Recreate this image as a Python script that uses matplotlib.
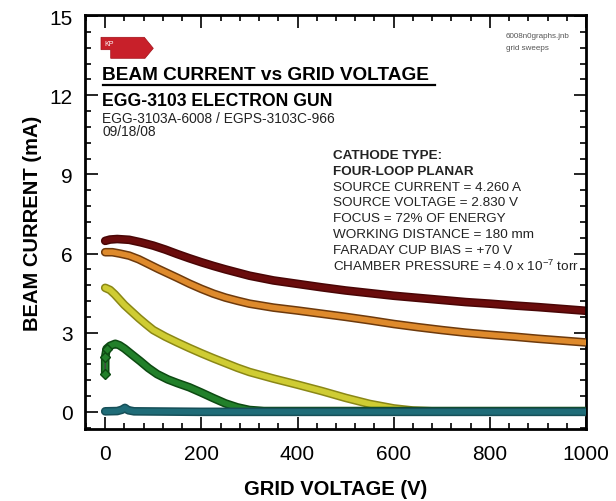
import matplotlib
matplotlib.use('Agg')
import matplotlib.pyplot as plt
import matplotlib.patheffects as pe
from matplotlib.patches import Polygon
from matplotlib.lines import Line2D
from matplotlib.ticker import MultipleLocator

plt.rcParams['font.family'] = ['Liberation Sans', 'DejaVu Sans']
plt.rcParams['mathtext.fontset'] = 'custom'
plt.rcParams['mathtext.rm'] = 'Liberation Sans'

# data (grid voltage in V, beam current in mA)
v_maroon = [0, 10, 25, 50, 75, 100, 125, 150, 175, 200, 225, 250, 275, 300, 350, 400,
            450, 500, 550, 600, 650, 700, 750, 800, 850, 900, 950, 1000]
i_maroon = [6.48, 6.53, 6.55, 6.52, 6.42, 6.3, 6.15, 5.98, 5.82, 5.67, 5.53, 5.4, 5.28,
            5.16, 4.98, 4.85, 4.72, 4.6, 4.5, 4.4, 4.32, 4.24, 4.16, 4.1, 4.03, 3.97, 3.9, 3.83]

v_orange = [0, 15, 30, 50, 70, 90, 110, 130, 150, 175, 200, 225, 250, 275, 300, 350, 400,
            450, 500, 550, 600, 650, 700, 750, 800, 850, 900, 950, 1000]
i_orange = [6.05, 6.05, 6.0, 5.92, 5.78, 5.6, 5.42, 5.25, 5.08, 4.86, 4.66, 4.48, 4.33,
            4.21, 4.1, 3.95, 3.84, 3.72, 3.6, 3.47, 3.33, 3.21, 3.1, 3.0, 2.92, 2.85, 2.77,
            2.7, 2.63]

v_yellow = [0, 10, 20, 30, 40, 55, 70, 85, 100, 125, 150, 175, 200, 225, 250, 275, 300,
            350, 400, 450, 500, 550, 600, 640, 680, 800, 1000]
i_yellow = [4.7, 4.62, 4.45, 4.25, 4.05, 3.8, 3.55, 3.32, 3.1, 2.85, 2.63, 2.42, 2.22,
            2.03, 1.85, 1.67, 1.51, 1.26, 1.03, 0.79, 0.53, 0.3, 0.13, 0.05, 0.02, 0.02, 0.02]

v_green = [0, 0, 3, 10, 21, 30, 40, 55, 73, 90, 108, 130, 150, 175, 200, 225, 250, 275,
           300, 330, 500, 1000]
i_green = [1.45, 2.08, 2.39, 2.5, 2.58, 2.52, 2.4, 2.18, 1.92, 1.66, 1.43, 1.23, 1.09,
           0.93, 0.73, 0.52, 0.32, 0.17, 0.07, 0.03, 0.03, 0.03]

v_teal = [0, 25, 35, 41, 48, 60, 200, 500, 1000]
i_teal = [0.02, 0.03, 0.08, 0.15, 0.06, 0.02, 0.0, 0.0, 0.0]

series = [
    (v_maroon, i_maroon, '#6a0c0c', '#4a0606'),
    (v_orange, i_orange, '#de8a2c', '#6e3a0c'),
    (v_yellow, i_yellow, '#cfcc33', '#8a8716'),
    (v_green, i_green, '#22802a', '#0d4a12'),
    (v_teal, i_teal, '#1f6c78', '#164f58'),
]

info_lines = [
    ('CATHODE TYPE:', 'bold'),
    ('FOUR-LOOP PLANAR', 'bold'),
    ('SOURCE CURRENT = 4.260 A', 'normal'),
    ('SOURCE VOLTAGE = 2.830 V', 'normal'),
    ('FOCUS = 72% OF ENERGY', 'normal'),
    ('WORKING DISTANCE = 180 mm', 'normal'),
    ('FARADAY CUP BIAS = +70 V', 'normal'),
    (r'CHAMBER PRESSURE = 4.0 x 10$^{\mathregular{-7}}$ torr', 'normal'),
]

W, H = 616, 502
fig = plt.figure(figsize=(W / 100, H / 100), dpi=100)
ax = fig.add_axes([85 / W, 1 - 430 / H, 501 / W, 414 / H])

for k, (xs, ys, col, edge) in enumerate(series):
    ax.plot(xs, ys, color=col, lw=4, solid_capstyle='round', solid_joinstyle='round',
            zorder=2 + k,
            path_effects=[pe.Stroke(linewidth=6.2, foreground=edge), pe.Normal()])

# the first green points are separate diamonds joined by a thin line
ax.plot(v_green[:3], i_green[:3], color='#444444', lw=1, zorder=8)
ax.plot(v_green[:3], i_green[:3], 'D', color='#22802a', mec='#0d4a12', ms=5.5, zorder=9)

ax.set_xlim(-42, 1000)
ax.set_ylim(-0.65, 15.04)
ax.set_xticks(range(0, 1001, 200))
ax.set_yticks(range(0, 16, 3))
ax.xaxis.set_minor_locator(MultipleLocator(40))
ax.yaxis.set_minor_locator(MultipleLocator(0.6))
ax.tick_params(which='both', direction='in', top=True, right=True, width=1.2, labelsize=15)
ax.tick_params(which='major', length=9)
ax.tick_params(which='minor', length=4.5)
ax.tick_params(axis='x', pad=11)
ax.tick_params(axis='y', pad=9)
for s in ax.spines.values():
    s.set_linewidth(2)

ax.set_xlabel('GRID VOLTAGE (V)', fontsize=14.5, fontweight='bold', labelpad=11)
ax.set_ylabel('BEAM CURRENT (mA)', fontsize=14.5, fontweight='bold', labelpad=5)

def fx(px):
    return px / W

def fy(py):
    return 1 - py / H

# KP badge
badge = [(101, 38.3), (144.3, 38.3), (153.3, 49.3), (145, 59.3),
         (110.7, 59.3), (110.7, 50.7), (101, 50.7)]
fig.add_artist(Polygon([(fx(a), fy(b)) for a, b in badge], closed=True,
                       facecolor='#c8202a', edgecolor='#a01018', lw=0.5,
                       transform=fig.transFigure))
fig.text(fx(104), fy(44), 'KP', color='white', fontsize=5, va='center', ha='left')

fig.text(fx(102.5), fy(76), 'BEAM CURRENT vs GRID VOLTAGE', fontsize=13.7,
         fontweight='bold', va='center', ha='left')
fig.add_artist(Line2D([fx(102.5), fx(435)], [fy(86), fy(86)], color='black', lw=1.6,
                      transform=fig.transFigure))
fig.text(fx(102.5), fy(101), 'EGG-3103 ELECTRON GUN', fontsize=12.7,
         fontweight='bold', va='center', ha='left')
fig.text(fx(102.5), fy(119), 'EGG-3103A-6008 / EGPS-3103C-966', fontsize=9.9,
         color='#222222', va='center', ha='left')
fig.text(fx(102.5), fy(131.5), '09/18/08', fontsize=9.9, color='#222222',
         va='center', ha='left')

fig.text(fx(506), fy(36), '6008n0graphs.jnb', fontsize=5.8, color='#555555',
         va='center', ha='left')
fig.text(fx(506), fy(49), 'grid sweeps', fontsize=5.8, color='#555555',
         va='center', ha='left')

for n, (txt, wt) in enumerate(info_lines):
    fig.text(fx(333), fy(156 + 15.8 * n), txt, fontsize=9.7, fontweight=wt,
             color='#222222', va='center', ha='left')

fig.savefig('out.png', dpi=100, facecolor='white')
